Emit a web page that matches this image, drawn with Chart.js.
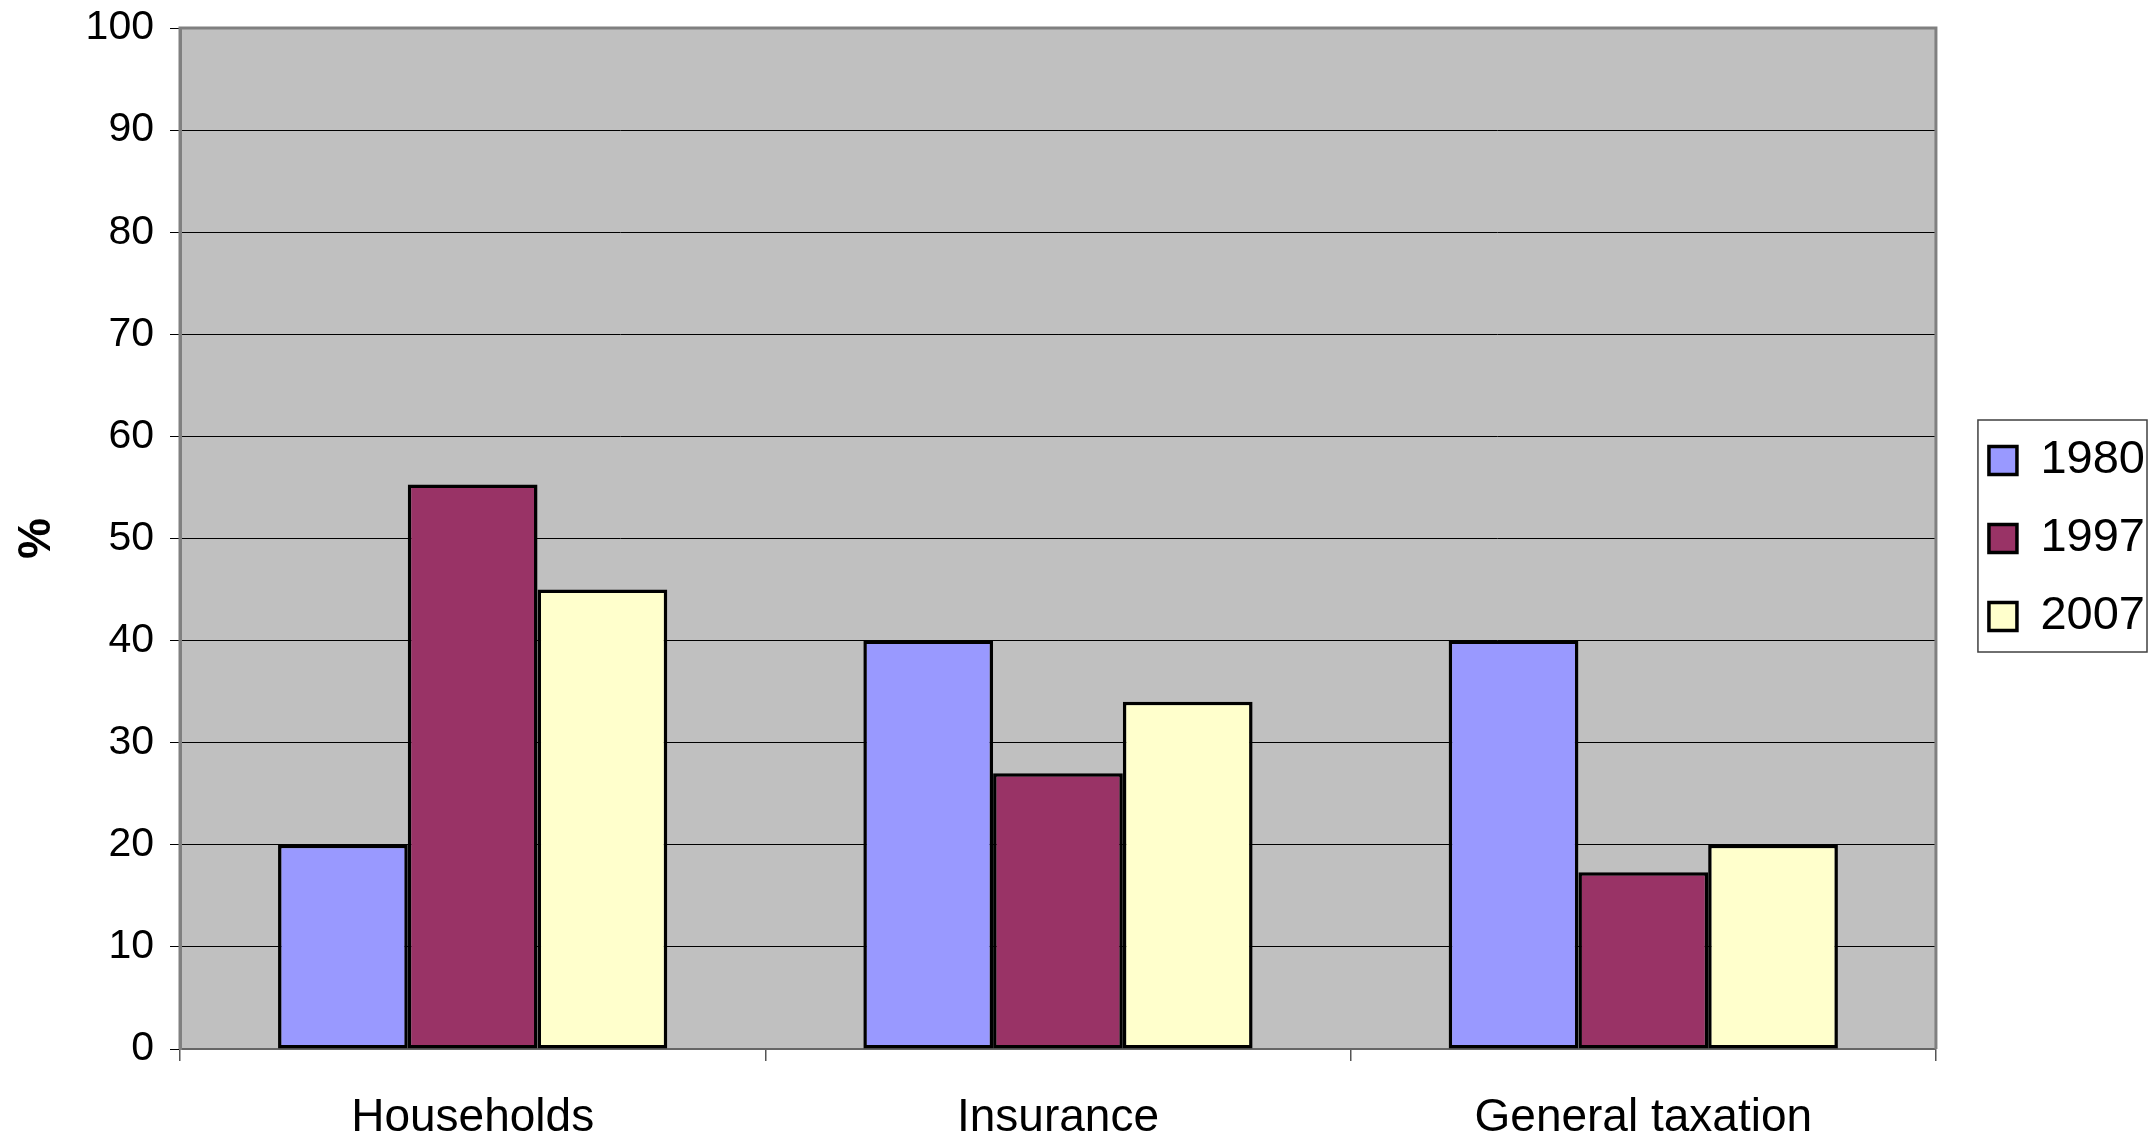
<!DOCTYPE html>
<html>
<head>
<meta charset="utf-8">
<script src="https://cdn.jsdelivr.net/npm/chart.js@4/dist/chart.umd.min.js"></script>
<style>
  html, body { margin: 0; padding: 0; background: #ffffff; }
  #wrap { width: 2152px; height: 1138px; position: relative; }
</style>
</head>
<body>
<div id="wrap"><canvas id="c" width="2152" height="1138"></canvas></div>
<script>
const categories = ['Households', 'Insurance', 'General taxation'];
const seriesNames = ['1980', '1997', '2007'];
const values1980 = [20, 40, 40];
const values1997 = [55.3, 27, 17.3];
const values2007 = [45, 34, 20];
const yTicks = [0, 10, 20, 30, 40, 50, 60, 70, 80, 90, 100];
const yTitle = '%';

const FONT = '"Liberation Sans", Arial, sans-serif';

const plotPlugin = {
  id: 'plotPlugin',
  beforeDraw(chart) {
    const {ctx, chartArea: a} = chart;
    ctx.save();
    ctx.fillStyle = '#ffffff';
    ctx.fillRect(0, 0, chart.width, chart.height);
    ctx.fillStyle = '#c0c0c0';
    ctx.fillRect(a.left, a.top, a.right - a.left, a.bottom - a.top);
    ctx.restore();
  },
  beforeDatasetsDraw(chart) {
    const {ctx, chartArea: a} = chart;
    ctx.save();
    ctx.strokeStyle = '#808080';
    ctx.lineWidth = 3;
    ctx.beginPath();
    ctx.moveTo(a.left, a.bottom);
    ctx.lineTo(a.left, a.top);
    ctx.lineTo(a.right, a.top);
    ctx.lineTo(a.right, a.bottom);
    ctx.stroke();
    ctx.restore();
  },
  afterLayout(chart) {
    const l = chart.legend;
    const a = chart.chartArea;
    if (l) {
      l.left += 22; l.right += 22;
      l.top = a.top; l.bottom = a.bottom;
    }
  },
  afterDraw(chart) {
    const l = chart.legend;
    if (!l || !l.legendHitBoxes || !l.legendHitBoxes.length) return;
    const hb = l.legendHitBoxes;
    let minL = Infinity, maxR = -Infinity, minT = Infinity, maxB = -Infinity;
    hb.forEach(h => {
      minL = Math.min(minL, h.left);
      maxR = Math.max(maxR, h.left + h.width);
      minT = Math.min(minT, h.top);
      maxB = Math.max(maxB, h.top + h.height);
    });
    const ctx = chart.ctx;
    const x0 = minL - 11;
    const x1 = Math.min(maxR + 3, chart.width - 5);
    ctx.save();
    ctx.strokeStyle = '#404040';
    ctx.lineWidth = 1.5;
    ctx.strokeRect(x0, minT - 17, x1 - x0, (maxB + 12) - (minT - 17));
    ctx.restore();
  }
};

const ds = (label, data, color) => ({
  label, data,
  backgroundColor: color,
  borderColor: '#000000',
  borderWidth: 3.5,
  borderSkipped: false,
  categoryPercentage: 0.665,
  barPercentage: 1.0
});

new Chart(document.getElementById('c'), {
  type: 'bar',
  data: {
    labels: categories,
    datasets: [
      ds(seriesNames[0], values1980, '#9999ff'),
      ds(seriesNames[1], values1997, '#993366'),
      ds(seriesNames[2], values2007, '#ffffcc')
    ]
  },
  options: {
    responsive: false,
    animation: false,
    devicePixelRatio: 1,
    layout: { padding: { left: 0, right: 19, top: 28, bottom: 0 } },
    plugins: {
      tooltip: { enabled: false },
      legend: {
        position: 'right',
        align: 'center',
        labels: {
          boxWidth: 28,
          boxHeight: 28,
          padding: 31,
          color: '#000000',
          font: { family: FONT, size: 47 }
        }
      }
    },
    scales: {
      x: {
        type: 'category',
        offset: true,
        grid: {
          offset: true,
          drawOnChartArea: false,
          drawTicks: true,
          tickLength: 12,
          color: '#555555',
          lineWidth: 1.5
        },
        border: { display: true, color: '#666666', width: 2 },
        ticks: {
          color: '#000000',
          padding: 30,
          maxRotation: 0,
          font: { family: FONT, size: 46 }
        },
        afterFit(scale) { scale.height = 89; }
      },
      y: {
        min: 0,
        max: 100,
        afterBuildTicks(scale) { scale.ticks = yTicks.map(v => ({ value: v })); },
        grid: {
          color: '#000000',
          lineWidth: 1,
          drawTicks: true,
          tickLength: 10
        },
        border: { display: true, color: '#808080', width: 3 },
        ticks: {
          color: '#000000',
          padding: 16,
          font: { family: FONT, size: 41 }
        },
        title: {
          display: true,
          text: yTitle,
          color: '#000000',
          padding: { top: 10, bottom: 0 },
          font: { family: FONT, size: 46, weight: 'bold' }
        },
        afterFit(scale) {
          scale.width = 180;
          scale.paddingTop = 0;
          scale.paddingBottom = 0;
        }
      }
    }
  },
  plugins: [plotPlugin]
});
</script>
</body>
</html>
